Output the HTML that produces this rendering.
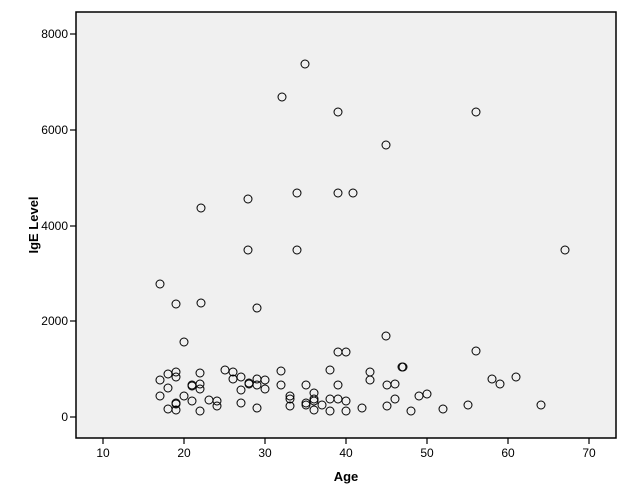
<!DOCTYPE html>
<html><head><meta charset="utf-8"><style>body{margin:0;background:#fff}svg{display:block}</style></head><body>
<svg width="629" height="504" xmlns="http://www.w3.org/2000/svg" font-family="Liberation Sans, sans-serif">
<rect x="76" y="12" width="540" height="426" fill="#f0f0f0" stroke="#000" stroke-width="1.5"/>
<g stroke="#000" stroke-width="1.2">
<line x1="70" y1="34" x2="76" y2="34"/><line x1="70" y1="130" x2="76" y2="130"/><line x1="70" y1="226" x2="76" y2="226"/><line x1="70" y1="321" x2="76" y2="321"/><line x1="70" y1="417" x2="76" y2="417"/>
<line x1="103" y1="438" x2="103" y2="444"/><line x1="184" y1="438" x2="184" y2="444"/><line x1="265" y1="438" x2="265" y2="444"/><line x1="346" y1="438" x2="346" y2="444"/><line x1="427" y1="438" x2="427" y2="444"/><line x1="508" y1="438" x2="508" y2="444"/><line x1="589" y1="438" x2="589" y2="444"/>
</g>
<g font-size="12" fill="#000" text-anchor="end">
<text x="68" y="38">8000</text><text x="68" y="134">6000</text><text x="68" y="230">4000</text><text x="68" y="325">2000</text><text x="68" y="421">0</text>
</g>
<g font-size="12" fill="#000" text-anchor="middle">
<text x="103" y="457">10</text><text x="184" y="457">20</text><text x="265" y="457">30</text><text x="346" y="457">40</text><text x="427" y="457">50</text><text x="508" y="457">60</text><text x="589" y="457">70</text>
</g>
<text x="346" y="481" font-size="13" font-weight="bold" text-anchor="middle">Age</text>
<text transform="translate(38,225) rotate(-90)" font-size="13" font-weight="bold" text-anchor="middle">IgE Level</text>
<g fill="none" stroke="#000" stroke-width="1">
<circle cx="305" cy="64" r="4"/><circle cx="282" cy="97" r="4"/><circle cx="338" cy="112" r="4"/><circle cx="476" cy="112" r="4"/><circle cx="386" cy="145" r="4"/><circle cx="248" cy="199" r="4"/><circle cx="201" cy="208" r="4"/><circle cx="297" cy="193" r="4"/><circle cx="338" cy="193" r="4"/><circle cx="353" cy="193" r="4"/><circle cx="248" cy="250" r="4"/><circle cx="297" cy="250" r="4"/><circle cx="565" cy="250" r="4"/><circle cx="160" cy="284" r="4"/><circle cx="176" cy="304" r="4"/><circle cx="201" cy="303" r="4"/><circle cx="257" cy="308" r="4"/><circle cx="184" cy="342" r="4"/><circle cx="386" cy="336" r="4"/><circle cx="338" cy="352" r="4"/><circle cx="346" cy="352" r="4"/><circle cx="476" cy="351" r="4"/><circle cx="402" cy="367" r="4"/>
<circle cx="160" cy="380" r="4"/><circle cx="168" cy="374" r="4"/><circle cx="176" cy="372" r="4"/><circle cx="176" cy="377" r="4"/><circle cx="168" cy="388" r="4"/><circle cx="160" cy="396" r="4"/><circle cx="184" cy="396" r="4"/><circle cx="192" cy="386" r="4"/><circle cx="200" cy="373" r="4"/><circle cx="200" cy="384" r="4"/><circle cx="200" cy="389" r="4"/><circle cx="192" cy="401" r="4"/><circle cx="176" cy="403" r="4"/><circle cx="176" cy="404" r="4"/><circle cx="168" cy="409" r="4"/><circle cx="176" cy="410" r="4"/><circle cx="200" cy="411" r="4"/><circle cx="209" cy="400" r="4"/><circle cx="217" cy="401" r="4"/><circle cx="217" cy="406" r="4"/><circle cx="225" cy="370" r="4"/><circle cx="233" cy="372" r="4"/><circle cx="233" cy="379" r="4"/><circle cx="241" cy="377" r="4"/><circle cx="241" cy="390" r="4"/><circle cx="249" cy="384" r="4"/><circle cx="241" cy="403" r="4"/><circle cx="257" cy="379" r="4"/><circle cx="257" cy="385" r="4"/><circle cx="265" cy="380" r="4"/><circle cx="265" cy="389" r="4"/><circle cx="257" cy="408" r="4"/><circle cx="192" cy="385" r="4"/><circle cx="249" cy="383" r="4"/>
<circle cx="281" cy="371" r="4"/><circle cx="281" cy="385" r="4"/><circle cx="290" cy="396" r="4"/><circle cx="290" cy="399" r="4"/><circle cx="290" cy="406" r="4"/><circle cx="306" cy="385" r="4"/><circle cx="306" cy="403" r="4"/><circle cx="306" cy="405" r="4"/><circle cx="314" cy="393" r="4"/><circle cx="314" cy="399" r="4"/><circle cx="314" cy="401" r="4"/><circle cx="314" cy="410" r="4"/><circle cx="322" cy="405" r="4"/><circle cx="330" cy="370" r="4"/><circle cx="330" cy="399" r="4"/><circle cx="330" cy="411" r="4"/><circle cx="338" cy="385" r="4"/><circle cx="338" cy="399" r="4"/><circle cx="346" cy="401" r="4"/><circle cx="346" cy="411" r="4"/><circle cx="362" cy="408" r="4"/><circle cx="370" cy="372" r="4"/><circle cx="370" cy="380" r="4"/><circle cx="387" cy="385" r="4"/><circle cx="395" cy="384" r="4"/><circle cx="395" cy="399" r="4"/><circle cx="387" cy="406" r="4"/><circle cx="403" cy="367" r="4"/><circle cx="411" cy="411" r="4"/><circle cx="419" cy="396" r="4"/><circle cx="427" cy="394" r="4"/>
<circle cx="492" cy="379" r="4"/><circle cx="500" cy="384" r="4"/><circle cx="516" cy="377" r="4"/><circle cx="443" cy="409" r="4"/><circle cx="468" cy="405" r="4"/><circle cx="541" cy="405" r="4"/>
</g>
</svg>
</body></html>
